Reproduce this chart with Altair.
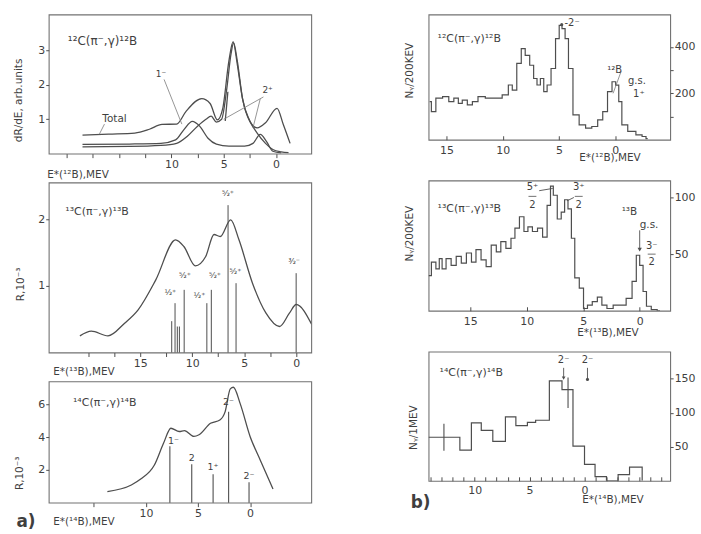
import altair as alt
import pandas as pd

FONT = "DejaVu Sans"
INK = "#4e4e4e"
TXT = "#3f3f3f"
FRAME = "#727272"

# ================= a) calculated spectra =================
# --- 12C(pi-,gamma)12B : dR/dE (arb. units) vs E*(12B) MeV
a1_total_E = [18.5, 16.0, 13.5, 12.1, 10.9, 9.5, 8.6, 7.1, 6.3, 5.6, 5.1, 4.5, 4.1, 3.7, 3.2, 2.5, 1.8, 1.0, -0.1, -0.7, -1.35]
a1_total_V = [0.54, 0.57, 0.60, 0.71, 0.85, 0.86, 1.23, 1.60, 1.46, 0.98, 1.30, 2.70, 3.26, 2.60, 1.60, 0.94, 0.75, 0.90, 1.32, 0.85, 0.30]
a1_c1_E = [18.5, 14.0, 11.0, 9.6, 8.8, 8.0, 7.3, 6.5, 5.7, 4.5, 3.0, 2.2, 1.5, 0.9, 0.3, -0.5]
a1_c1_V = [0.27, 0.28, 0.30, 0.40, 0.70, 0.94, 0.80, 0.45, 0.28, 0.22, 0.22, 0.30, 0.56, 0.35, 0.07, 0.02]
a1_c2_E = [18.5, 14.0, 11.0, 9.5, 8.5, 7.5, 6.7, 6.2, 5.7, 5.2, 4.7, 4.3, 4.05, 3.7, 3.2, 2.5, 1.8, 1.0, 0.3, -0.5, -1.2]
a1_c2_V = [0.20, 0.21, 0.24, 0.30, 0.50, 0.80, 1.00, 1.09, 0.92, 1.00, 1.90, 2.90, 3.22, 2.70, 1.60, 0.95, 0.60, 0.30, 0.12, 0.05, 0.03]
a1_c3_E = [4.85, 4.6]
a1_c3_V = [0.95, 1.8]
a1_lab_E = [19.9, 16.6, 11.0, 0.8]
a1_lab_V = [3.29, 1.0, 2.33, 1.84]
a1_lab_T = ["¹²C(π⁻,γ)¹²B", "Total", "1⁻", "2⁺"]
a1_lead_E = [16.4, 10.7, 1.2, 1.5]
a1_lead_V = [0.86, 2.16, 1.65, 1.60]
a1_lead_E2 = [16.9, 9.0, 5.0, 2.2]
a1_lead_V2 = [0.56, 0.86, 1.00, 0.75]

# --- 13C(pi-,gamma)13B : R, 10^-3
a2_E = [20.8, 19.7, 18.1, 16.5, 15.2, 13.5, 11.6, 10.8, 9.7, 8.7, 7.9, 7.3, 6.3, 5.5, 4.2, 2.9, 1.6, 0.65, 0.0, -1.5]
a2_V = [0.25, 0.32, 0.25, 0.44, 0.64, 1.09, 1.69, 1.59, 1.30, 1.44, 1.77, 1.74, 1.99, 1.69, 1.04, 0.59, 0.39, 0.59, 0.72, 0.42]
a2_stick_E = [11.97, 11.65, 11.43, 11.23, 10.77, 8.59, 8.16, 6.55, 5.78, 0.0]
a2_stick_V = [0.47, 0.74, 0.39, 0.39, 0.94, 0.74, 0.94, 2.21, 1.04, 1.19]
a2_lab_E = [12.1, 10.7, 9.3, 7.8, 6.55, 5.84, 0.2]
a2_lab_V = [0.89, 1.14, 0.84, 1.14, 2.38, 1.21, 1.36]
a2_lab_T = ["½⁺", "⁵⁄₂⁺", "½⁺", "⁵⁄₂⁺", "⁵⁄₂⁺", "⁵⁄₂⁺", "³⁄₂⁻"]
a2_title_E = [22.2]
a2_title_V = [2.1]
a2_title_T = ["¹³C(π⁻,γ)¹³B"]

# --- 14C(pi-,gamma)14B : R, 10^-3
a3_E = [13.7, 11.4, 10.5, 9.2, 8.3, 7.6, 6.8, 6.3, 5.4, 4.9, 3.8, 2.9, 2.4, 1.9, 1.6, 0.95, 0.0, -0.95, -2.2]
a3_V = [0.68, 1.08, 1.44, 2.28, 3.64, 4.54, 4.34, 4.40, 4.04, 4.14, 4.84, 5.04, 5.54, 6.94, 7.04, 6.04, 4.04, 2.64, 0.84]
a3_stick_E = [7.7, 5.6, 3.55, 2.06, 0.1]
a3_stick_V = [3.44, 2.34, 1.74, 5.54, 1.24]
a3_lab_E = [7.35, 5.6, 3.55, 2.06, 0.1]
a3_lab_V = [3.75, 2.75, 2.15, 6.15, 1.65]
a3_lab_T = ["1⁻", "2", "1⁺", "2⁻", "2⁻"]
a3_title_E = [17.0]
a3_title_V = [6.05]
a3_title_T = ["¹⁴C(π⁻,γ)¹⁴B"]

# ================= b) measured spectra =================
# --- 12C(pi-,gamma)12B : N_gamma / 200 keV
b1_E = [16.5, 16.2, 15.7, 15.0, 14.6, 14.1, 13.8, 13.4, 12.9, 12.5, 11.9, 11.2, 10.4, 9.7, 9.3, 9.0, 8.5, 8.2, 7.8, 7.4,
        7.1, 6.8, 6.5, 6.2, 5.9, 5.5, 5.1, 4.85, 4.6, 4.3, 4.0, 3.5, 2.9, 2.35, 1.8, 1.3, 0.9, 0.45, 0.1, -0.2,
        -0.45, -0.75, -1.5, -2.2, -2.6, -2.9]
b1_V = [164, 121, 179, 186, 164, 179, 157, 171, 150, 164, 186, 179, 179, 193, 236, 214, 329, 393, 364, 321,
        264, 236, 264, 207, 236, 307, 436, 493, 479, 436, 307, 107, 64, 50, 57, 86, 121, 207, 250, 235,
        164, 64, 36, 21, 14, 5]
b1_lab_E = [15.8, 4.5, 0.7, -1.15, -1.6]
b1_lab_V = [434, 502, 302, 251, 196]
b1_lab_T = ["¹²C(π⁻,γ)¹²B", "-2⁻", "¹²B", "g.s.", "1⁺"]

# --- 13C(pi-,gamma)13B : N_gamma / 200 keV
b2_E = [18.7, 18.2, 17.9, 17.6, 17.4, 16.9, 16.5, 16.0, 15.6, 15.1, 14.7, 14.3, 13.8, 13.4, 12.9, 12.5, 12.1, 11.6,
        11.2, 10.9, 10.4, 10.1, 9.7, 9.3, 8.8, 8.4, 8.0, 7.8, 7.5, 7.1, 6.8, 6.5, 6.2, 5.9, 5.6, 5.1, 4.85, 4.4,
        4.0, 3.5, 3.2, 2.6, 2.1, 1.5, 0.9, 0.45, 0.15, -0.15, -0.45, -0.75, -1.3, -1.8]
b2_V = [31, 43, 37, 46, 37, 46, 40, 48, 42, 51, 43, 54, 45, 39, 58, 52, 61, 55,
        64, 73, 83, 70, 74, 70, 73, 65, 93, 110, 102, 81, 87, 98, 90, 64, 29, 20, 2, 5,
        8, 12, 5, 2, 5, 5, 11, 26, 49, 40, 17, 4, 1, 0]
b2_lab_E = [17.9, 1.6, 0.0]
b2_lab_V = [90, 87, 76]
b2_lab_T = ["¹³C(π⁻,γ)¹³B", "¹³B", "g.s."]
b2_frac_E = [9.5, 5.4, -1.06]
b2_frac_num = ["5⁺", "3⁺", "3⁻"]
b2_frac_den = ["2", "2", "2"]
b2_frac_Vn = [109, 109, 57]
b2_frac_Vd = [93, 93, 43]

# --- 14C(pi-,gamma)14B : N_gamma / 1 MeV
b3_edges = [14.2, 11.35, 10.3, 9.4, 8.35, 7.2, 6.25, 5.2, 4.45, 3.2, 2.05, 1.05, 0.0, -0.96, -2.0, -3.06, -4.1, -5.25]
b3_vals = [64, 45, 85, 74, 58, 94, 81, 86, 89, 147, 134, 51, 24, 6, 0, 9, 20]
b3_err_E = [12.8, 1.5]
b3_err_lo = [44, 107]
b3_err_hi = [84, 152]
b3_lab_E = [13.2, 1.9, -0.27]
b3_lab_V = [158, 177, 177]
b3_lab_T = ["¹⁴C(π⁻,γ)¹⁴B", "2⁻", "2⁻"]


# ================= helpers =================
def series(name, E, V):
    return pd.DataFrame({"E": E, "V": V, "s": name, "i": list(range(len(E)))})


def labels(E, V, T):
    return pd.DataFrame({"E": E, "V": V, "t": T})


def segs(E, V, E2, V2):
    return pd.DataFrame({"E": E, "V": V, "E2": E2, "V2": V2})


def show_expr(show):
    return "indexof([%s], datum.value) >= 0 ? datum.label : ''" % ",".join(str(float(v)) for v in show)


def xaxis(values, show, title, tx, ty, inward=False, pad=1):
    return alt.Axis(values=values, labelExpr=show_expr(show), title=title, titleX=tx, titleY=ty,
                    titleAlign="left", titleBaseline="middle", titleAngle=0, titleFont=FONT,
                    titleFontSize=10.5, titleFontWeight="normal", titleColor=TXT,
                    labelFont=FONT, labelFontSize=11, labelColor=TXT, labelPadding=pad,
                    labelOverlap=False, labelFlush=False, labelBound=False,
                    tickSize=4, tickColor=INK, tickWidth=1, domain=False, grid=False,
                    offset=(-4 if inward else 0))


def yaxis(values, show, title, tx, ty, orient="left"):
    return alt.Axis(orient=orient, values=values, labelExpr=show_expr(show), title=title,
                    titleX=tx, titleY=ty, titleAngle=270, titleAlign="center", titleBaseline="middle",
                    titleFont=FONT, titleFontSize=10.5, titleFontWeight="normal", titleColor=TXT,
                    labelFont=FONT, labelFontSize=11, labelColor=TXT, labelPadding=1,
                    labelOverlap=False, labelFlush=False, labelBound=False,
                    tickSize=3, tickColor=INK, domain=False, grid=False)


def panel(w, h, xdom, ydom, xax, yax, layers):
    sx = alt.Scale(domain=xdom, reverse=True, nice=False, zero=False)
    sy = alt.Scale(domain=ydom, nice=False, zero=False)
    X = alt.X("E:Q", scale=sx, axis=xax)
    Y = alt.Y("V:Q", scale=sy, axis=yax)
    return alt.layer(*[f(X, Y) for f in layers]).properties(width=w, height=h)


def L_curve(df, interp="monotone", width=1.3):
    return lambda X, Y: alt.Chart(df).mark_line(interpolate=interp, color=INK, strokeWidth=width,
                                                clip=True).encode(x=X, y=Y, detail="s:N", order="i:Q")


def L_rule(df, width=1.0, color=INK):
    return lambda X, Y: alt.Chart(df).mark_rule(color=color, strokeWidth=width).encode(
        x=X, y=Y, x2="E2:Q", y2="V2:Q")


def L_text(df, size=10, align="center", weight="normal"):
    return lambda X, Y: alt.Chart(df).mark_text(align=align, baseline="middle", font=FONT, fontSize=size,
                                                fontWeight=weight, color=TXT).encode(x=X, y=Y, text="t:N")


def L_point(df, shape="circle", size=10):
    return lambda X, Y: alt.Chart(df).mark_point(shape=shape, filled=True, size=size, color=INK,
                                                 opacity=1).encode(x=X, y=Y)


# ================= panels =================
p1 = panel(264, 140, [-3.37, 21.73], [0, 4.05],
           xaxis([20, 17.5, 15, 12.5, 10, 7.5, 5, 2.5, 0], [10, 5, 0], "E*(¹²B),MEV", -2, 21),
           yaxis([1, 2, 3], [1, 2, 3], "dR/dE, arb.units", -30, 86),
           [L_curve(pd.concat([series("total", a1_total_E, a1_total_V),
                               series("c1", a1_c1_E, a1_c1_V),
                               series("c2", a1_c2_E, a1_c2_V),
                               series("c3", a1_c3_E, a1_c3_V)])),
            L_rule(segs(a1_lead_E, a1_lead_V, a1_lead_E2, a1_lead_V2), width=0.8, color="#7a7a7a"),
            L_text(labels(a1_lab_E[:1], a1_lab_V[:1], a1_lab_T[:1]), size=12, align="left"),
            L_text(labels(a1_lab_E[1:2], a1_lab_V[1:2], a1_lab_T[1:2]), size=10.5, align="left"),
            L_text(labels(a1_lab_E[2:], a1_lab_V[2:], a1_lab_T[2:]), size=9)])

p2 = panel(264, 171, [-1.45, 23.8], [0, 2.55],
           xaxis([20, 17.5, 15, 12.5, 10, 7.5, 5, 2.5, 0], [15, 10, 5, 0], "E*(¹³B),MEV", 4, 19),
           yaxis([1, 2], [1, 2], "R,10⁻³", -28, 102),
           [L_curve(series("c", a2_E, a2_V)),
            L_rule(segs(a2_stick_E, a2_stick_V, a2_stick_E, [0] * len(a2_stick_E)), width=1.0),
            L_text(labels(a2_lab_E, a2_lab_V, a2_lab_T), size=8),
            L_text(labels(a2_title_E, a2_title_V, a2_title_T), size=11, align="left")])

p3 = panel(264, 122, [-5.87, 19.33], [0, 7.4],
           xaxis([15, 10, 5, 0], [10, 5, 0], "E*(¹⁴B),MEV", 4, 19),
           yaxis([2, 4, 6], [2, 4, 6], "R,10⁻³", -29, 92),
           [L_curve(series("c", a3_E, a3_V)),
            L_rule(segs(a3_stick_E, a3_stick_V, a3_stick_E, [0] * len(a3_stick_E)), width=1.1),
            L_text(labels(a3_lab_E, a3_lab_V, a3_lab_T), size=9.5),
            L_text(labels(a3_title_E, a3_title_V, a3_title_T), size=11, align="left"),
            L_text(labels([22.43], [-1.16], ["a)"]), size=17, align="left", weight="bold")])

# right column
b1_df = series("h", b1_E, b1_V)
p4 = panel(243, 126, [-4.9, 16.6], [0, 540],
           xaxis([15, 10, 5, 0], [15, 10, 5, 0], "E*(¹²B),MEV", 151, 22, inward=True, pad=5),
           yaxis([100, 200, 300, 400], [200, 400], "Nᵧ/200KEV", -262, 56, orient="right"),
           [L_curve(b1_df, interp="step", width=1.2),
            L_rule(segs([-0.53], [294], [0.18], [200]), width=0.8, color="#7a7a7a"),
            L_point(labels([4.75], [496], [""])),
            L_text(labels(b1_lab_E[:1], b1_lab_V[:1], b1_lab_T[:1]), size=11, align="left"),
            L_text(labels(b1_lab_E[1:], b1_lab_V[1:], b1_lab_T[1:]), size=10, align="left")])

frac_num = labels(b2_frac_E, b2_frac_Vn, b2_frac_num)
frac_den = labels(b2_frac_E, b2_frac_Vd, b2_frac_den)
frac_bar = segs([e + 0.35 for e in b2_frac_E], [(a + b) / 2 for a, b in zip(b2_frac_Vn, b2_frac_Vd)],
                [e - 0.35 for e in b2_frac_E], [(a + b) / 2 for a, b in zip(b2_frac_Vn, b2_frac_Vd)])
p5 = panel(243, 131, [-2.7, 18.7], [0, 115],
           xaxis([15, 10, 5, 0], [15, 10, 5, 0], "E*(¹³B),MEV", 149, 26, inward=True, pad=5),
           yaxis([50, 100], [50, 100], "Nᵧ/200KEV", -262, 53, orient="right"),
           [L_curve(series("h", b2_E, b2_V), interp="step", width=1.2),
            L_rule(segs([8.9, 6.44, 0.0], [106, 97, 71], [7.7, 5.83, 0.0], [108, 100, 55]), width=0.9),
            L_point(labels([0.0], [54], [""]), shape="triangle-down", size=18),
            L_rule(frac_bar, width=0.8),
            L_text(frac_num, size=10),
            L_text(frac_den, size=10),
            L_text(labels(b2_lab_E[:1], b2_lab_V[:1], b2_lab_T[:1]), size=11, align="left"),
            L_text(labels(b2_lab_E[1:], b2_lab_V[1:], b2_lab_T[1:]), size=10.5, align="left")])

# histogram outline for 14B (from bin edges and counts)
rows_E, rows_V = [], []
for k, v in enumerate(b3_vals):
    rows_E += [b3_edges[k], b3_edges[k + 1]]
    rows_V += [v, v]
rows_E.append(b3_edges[-1])
rows_V.append(0)
p6 = panel(243, 130, [-7.8, 14.2], [0, 190],
           xaxis(list(range(-7, 15)), [10, 5, 0], "E*(¹⁴B),MEV", 154, 23, inward=True, pad=4),
           yaxis([50, 100, 150], [50, 100, 150], "Nᵧ/1MEV", -258, 76, orient="right"),
           [L_curve(series("h", rows_E, rows_V), interp="linear", width=1.2),
            L_rule(segs(b3_err_E, b3_err_lo, b3_err_E, b3_err_hi), width=1.1),
            L_rule(segs([1.9, -0.27], [166, 166], [1.9, -0.27], [152, 150]), width=0.9),
            L_point(labels([1.9], [151], [""]), shape="triangle-down", size=14),
            L_point(labels([-0.27], [149], [""]), size=10),
            L_text(labels(b3_lab_E[:1], b3_lab_V[:1], b3_lab_T[:1]), size=11, align="left"),
            L_text(labels(b3_lab_E[1:], b3_lab_V[1:], b3_lab_T[1:]), size=10),
            L_text(labels([15.83], [-32], ["b)"]), size=17, align="left", weight="bold")])

left = alt.vconcat(p1, p2, p3, spacing=29, bounds="flush")
right = alt.vconcat(p4, p5, p6, spacing=41, bounds="flush")
# nested flush column counts as zero width in the outer layout, so the spacing spans the left column
chart = alt.hconcat(left, right, spacing=264 + 118, bounds="flush").properties(
    padding={"left": 13, "top": 12, "right": 5, "bottom": 5},
    background="white",
).configure_view(stroke=FRAME, strokeWidth=1.1)

chart.save("out.html", embed_options={"renderer": "svg", "actions": False})
